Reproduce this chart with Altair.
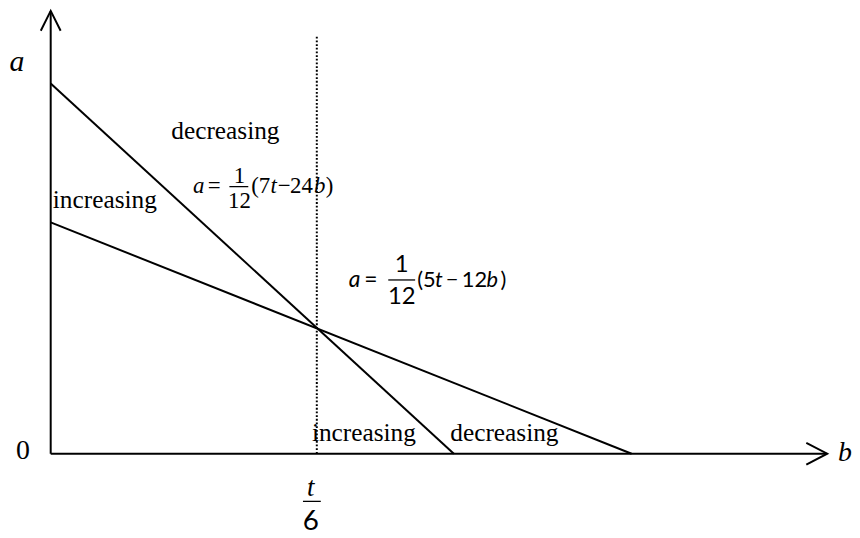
import altair as alt
import pandas as pd

# ---- diagram values (units: b horizontal, a vertical; t/6 -> b=2, crossing -> a=3) ----
line1_b = [0.0, 3.03]     # a = (7t - 24b)/12
line1_a = [8.81, 0.0]
line2_b = [0.0, 4.366]    # a = (5t - 12b)/12
line2_a = [5.504, 0.0]

guide_b = [2.0, 2.0]      # dotted line at b = t/6
guide_a = [0.0, 9.946]

yaxis_b = [0.0, 0.0]
yaxis_a = [0.0, 10.536]
yhead_b = [-0.0746, 0.0, 0.0746]
yhead_a = [10.064, 10.536, 10.064]

xaxis_b = [0.0, 5.836]
xaxis_a = [0.0, 0.0]
xhead_b = [5.679, 5.836, 5.679]
xhead_a = [0.26, 0.0, -0.26]

# fraction bars: b start, b end, a
frac_b1 = [1.343, 2.537, 1.896]
frac_b2 = [1.485, 2.739, 2.030]
frac_a = [6.355, 4.134, -1.134]

# text labels
lab_text = ["a", "0", "b", "decreasing", "increasing", "increasing", "decreasing",
            "a", "=", "1", "12", "(7", "t", "\u2212", "24", "b", ")",
            "a", "=", "1", "12", "(5", "t", "\u2212", "12", "b", ")",
            "t", "6"]
lab_b = [-0.254, -0.209, 5.970, 1.313, 0.407, 2.354, 3.410,
         1.112, 1.228, 1.418, 1.418, 1.507, 1.652, 1.706, 1.799, 1.978, 2.067,
         2.284, 2.407, 2.638, 2.638, 2.754, 2.888, 2.970, 3.090, 3.276, 3.381,
         1.955, 1.955]
lab_a = [9.095, -0.118, -0.165, 7.489, 5.835, 0.307, 0.307,
         6.213, 6.213, 6.449, 5.835, 6.213, 6.213, 6.213, 6.213, 6.213, 6.213,
         3.969, 3.969, 4.323, 3.567, 3.969, 3.969, 3.969, 3.969, 3.969, 3.969,
         -1.016, -1.819]
lab_fam = ["serif"] * 17 + ["sans"] * 10 + ["serif", "sans"]
lab_ital = [True, False, True, False, False, False, False,
            True, False, False, False, False, True, False, False, True, False,
            True, False, False, False, False, True, False, False, True, False,
            True, False]
lab_align = ["center"] * 11 + ["left"] * 6 + ["center"] * 4 + ["left"] * 6 + ["center", "center"]
lab_size = [30, 28, 28, 25.5, 25.5, 25.5, 25.5,
            23, 23, 23, 23, 23, 23, 23, 23, 23, 23,
            23, 23, 24, 24, 22, 22, 22, 22, 22, 22,
            27, 28]

X_DOMAIN = [-0.3209, 5.9776]
Y_DOMAIN = [-1.772, 10.560]

xs = alt.Scale(domain=X_DOMAIN, nice=False, zero=False)
ys = alt.Scale(domain=Y_DOMAIN, nice=False, zero=False)

# ---- segment table ----
rows = []
def add(name, bs, as_):
    for i, (b, a) in enumerate(zip(bs, as_)):
        rows.append({"seg": name, "i": i, "b": b, "a": a})

add("l1", line1_b, line1_a)
add("l2", line2_b, line2_a)
add("ya", yaxis_b, yaxis_a)
add("yh", yhead_b, yhead_a)
add("xa", xaxis_b, xaxis_a)
add("xh", xhead_b, xhead_a)
seg_df = pd.DataFrame(rows)

guide_df = pd.DataFrame({"b": guide_b, "a": guide_a, "i": [0, 1]})
frac_df = pd.DataFrame({"b1": frac_b1, "b2": frac_b2, "a": frac_a})
lab_df = pd.DataFrame({"txt": lab_text, "b": lab_b, "a": lab_a, "fam": lab_fam,
                       "ital": lab_ital, "al": lab_align, "fs": lab_size})

X = alt.X("b:Q", scale=xs, axis=None)
Y = alt.Y("a:Q", scale=ys, axis=None)

segs = alt.Chart(seg_df).mark_line(color="black", strokeWidth=2, strokeCap="butt",
                                   strokeJoin="miter").encode(
    x=X, y=Y, detail="seg:N", order="i:Q")

guide = alt.Chart(guide_df).mark_line(color="black", strokeWidth=2,
                                      strokeDash=[1.8, 1.9]).encode(
    x=X, y=Y, order="i:Q")

fracs = alt.Chart(frac_df).mark_rule(color="black", strokeWidth=1.3).encode(
    x=alt.X("b1:Q", scale=xs, axis=None), x2="b2:Q", y=Y)

fonts = {"serif": "Liberation Serif", "sans": "Lato"}
text_layers = []
for fam in ["serif", "sans"]:
    for ital in [False, True]:
        for al in ["center", "left"]:
            sub = lab_df[(lab_df.fam == fam) & (lab_df.ital == ital) & (lab_df.al == al)]
            if len(sub) == 0:
                continue
            text_layers.append(
                alt.Chart(sub).mark_text(
                    font=fonts[fam], fontStyle="italic" if ital else "normal",
                    align=al, baseline="alphabetic", color="black"
                ).encode(x=X, y=Y, text="txt:N",
                         size=alt.Size("fs:Q", scale=None, legend=None))
            )

chart = alt.layer(segs, guide, fracs, *text_layers).properties(
    width=844, height=522,
    autosize=alt.AutoSizeParams(type="none"),
    padding={"left": 0, "top": 0, "right": 6, "bottom": 10},
    background="white",
).configure_view(stroke=None)

chart.save("out.html", embed_options={"renderer": "svg", "actions": False})
